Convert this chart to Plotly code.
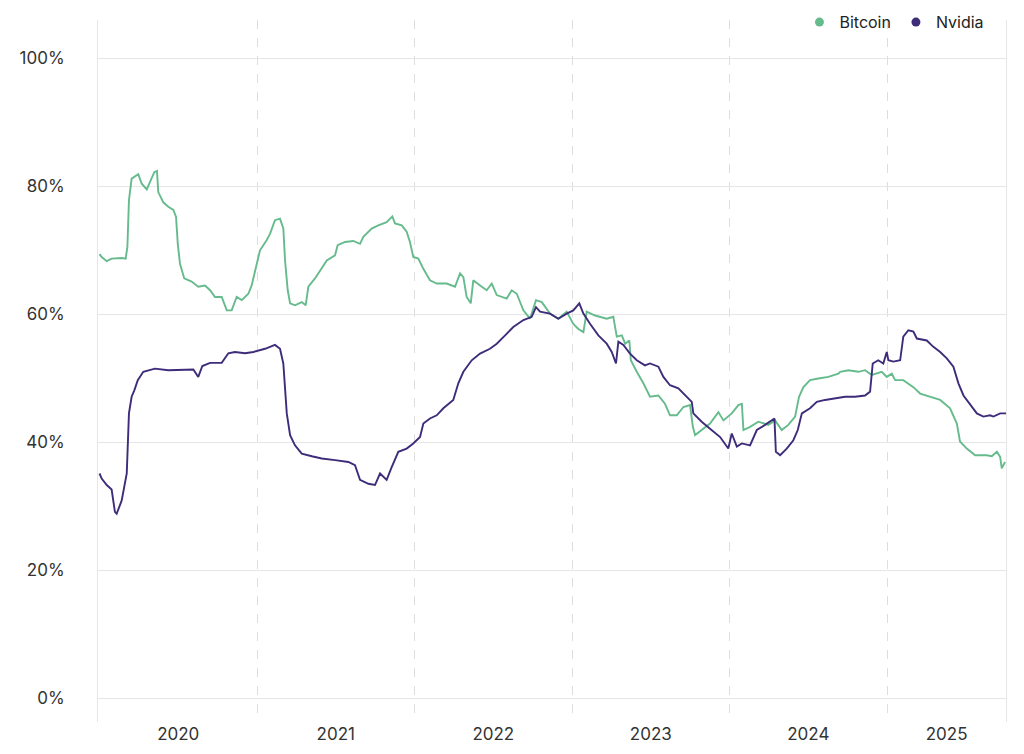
import plotly.graph_objects as go

# Time expressed in decimal years
btc_t = [2020.00, 2020.014, 2020.046, 2020.077, 2020.141, 2020.166, 2020.177, 2020.187, 2020.204, 2020.246,
         2020.268, 2020.300, 2020.321, 2020.348, 2020.365, 2020.373, 2020.405, 2020.437, 2020.469, 2020.486,
         2020.497, 2020.511, 2020.538, 2020.585, 2020.627, 2020.670, 2020.702, 2020.733, 2020.776, 2020.808,
         2020.839, 2020.871, 2020.903, 2020.945, 2020.966, 2020.983, 2021.019, 2021.062, 2021.083, 2021.114,
         2021.146, 2021.167, 2021.178, 2021.195, 2021.210, 2021.241, 2021.284, 2021.309, 2021.326, 2021.368,
         2021.411, 2021.443, 2021.495, 2021.512, 2021.559, 2021.611, 2021.654, 2021.675, 2021.728, 2021.770,
         2021.823, 2021.859, 2021.876, 2021.919, 2021.950, 2021.971, 2021.992, 2022.024, 2022.056, 2022.098,
         2022.141, 2022.204, 2022.257, 2022.289, 2022.310, 2022.331, 2022.357, 2022.373, 2022.416, 2022.458,
         2022.490, 2022.522, 2022.585, 2022.617, 2022.649, 2022.691, 2022.733, 2022.771, 2022.808, 2022.860,
         2022.913, 2022.966, 2023.008, 2023.040, 2023.072, 2023.093, 2023.146, 2023.220, 2023.262, 2023.284,
         2023.316, 2023.337, 2023.364, 2023.373, 2023.411, 2023.453, 2023.495, 2023.548, 2023.590, 2023.622,
         2023.665, 2023.707, 2023.749, 2023.767, 2023.781, 2023.823, 2023.876, 2023.929, 2023.961, 2024.014,
         2024.056, 2024.078, 2024.088, 2024.130, 2024.183, 2024.246, 2024.289, 2024.331, 2024.373, 2024.416,
         2024.441, 2024.469, 2024.511, 2024.564, 2024.627, 2024.691, 2024.702, 2024.754, 2024.818, 2024.860,
         2024.903, 2024.966, 2024.998, 2025.030, 2025.051, 2025.103, 2025.135, 2025.167, 2025.210, 2025.273,
         2025.337, 2025.400, 2025.443, 2025.463, 2025.506, 2025.559, 2025.633, 2025.665, 2025.697, 2025.718,
         2025.728, 2025.749]
btc_v = [69.4, 68.95, 68.3, 68.7, 68.8, 68.7, 70.5, 77.8, 81.2, 81.9,
         80.4, 79.5, 80.7, 82.2, 82.4, 79.1, 77.5, 76.8, 76.3, 75.2,
         71.0, 67.9, 65.6, 65.1, 64.3, 64.5, 63.75, 62.7, 62.7, 60.6,
         60.6, 62.7, 62.2, 63.2, 64.5, 66.4, 70.0, 71.6, 72.6, 74.7,
         74.95, 73.4, 68.4, 63.75, 61.7, 61.4, 61.9, 61.4, 64.3, 65.6,
         67.1, 68.4, 69.2, 70.8, 71.3, 71.45, 71.0, 72.1, 73.4, 73.9,
         74.4, 75.3, 74.2, 73.9, 72.9, 71.3, 68.95, 68.7, 67.1, 65.3,
         64.8, 64.8, 64.3, 66.4, 65.8, 62.7, 61.7, 65.3, 64.5, 63.75,
         64.8, 63.0, 62.45, 63.75, 63.2, 60.6, 59.3, 62.2, 61.9, 60.1,
         59.3, 60.4, 58.5, 57.7, 57.2, 60.4, 59.8, 59.3, 59.6, 56.5,
         56.7, 55.4, 55.9, 52.8, 51.0, 49.2, 47.1, 47.3, 46.0, 44.2,
         44.2, 45.5, 45.8, 42.4, 41.1, 41.9, 42.9, 44.7, 43.4, 44.5,
         45.8, 46.0, 41.9, 42.4, 43.2, 42.7, 43.4, 41.9, 42.7, 44.0,
         47.1, 48.6, 49.7, 49.95, 50.2, 50.7, 51.0, 51.25, 51.0, 51.25,
         50.5, 51.0, 50.2, 50.7, 49.7, 49.7, 49.2, 48.6, 47.6, 47.1,
         46.6, 45.3, 42.9, 40.1, 39.0, 37.95, 37.95, 37.8, 38.5, 37.7,
         35.9, 36.9]

nvda_t = [2020.00, 2020.014, 2020.046, 2020.077, 2020.098, 2020.109, 2020.141, 2020.173, 2020.187, 2020.204,
          2020.221, 2020.243, 2020.278, 2020.352, 2020.437, 2020.522, 2020.596, 2020.627, 2020.653, 2020.702,
          2020.776, 2020.818, 2020.860, 2020.924, 2020.977, 2021.051, 2021.114, 2021.146, 2021.167, 2021.189,
          2021.210, 2021.241, 2021.284, 2021.348, 2021.411, 2021.495, 2021.580, 2021.622, 2021.654, 2021.707,
          2021.749, 2021.781, 2021.823, 2021.855, 2021.897, 2021.950, 2021.992, 2022.035, 2022.056, 2022.098,
          2022.141, 2022.183, 2022.246, 2022.278, 2022.310, 2022.363, 2022.416, 2022.479, 2022.522, 2022.575,
          2022.627, 2022.691, 2022.744, 2022.771, 2022.797, 2022.860, 2022.913, 2022.966, 2023.008, 2023.046,
          2023.072, 2023.114, 2023.167, 2023.220, 2023.252, 2023.279, 2023.294, 2023.326, 2023.368, 2023.411,
          2023.463, 2023.495, 2023.548, 2023.580, 2023.622, 2023.675, 2023.717, 2023.760, 2023.770, 2023.823,
          2023.876, 2023.940, 2023.992, 2024.014, 2024.046, 2024.078, 2024.130, 2024.173, 2024.225, 2024.268,
          2024.285, 2024.294, 2024.321, 2024.363, 2024.405, 2024.433, 2024.459, 2024.511, 2024.554, 2024.606,
          2024.670, 2024.733, 2024.797, 2024.860, 2024.892, 2024.909, 2024.944, 2024.976, 2024.998, 2025.008,
          2025.040, 2025.083, 2025.103, 2025.135, 2025.167, 2025.189, 2025.252, 2025.294, 2025.337, 2025.379,
          2025.421, 2025.453, 2025.485, 2025.527, 2025.570, 2025.611, 2025.654, 2025.675, 2025.718, 2025.756]
nvda_v = [35.1, 34.3, 33.3, 32.6, 29.1, 28.8, 30.9, 35.1, 44.5, 47.1,
          48.1, 49.7, 51.0, 51.5, 51.25, 51.35, 51.35, 50.2, 51.9, 52.4,
          52.4, 53.9, 54.1, 53.9, 54.1, 54.6, 55.2, 54.6, 52.3, 44.5,
          41.1, 39.5, 38.2, 37.8, 37.45, 37.2, 36.9, 36.4, 34.1, 33.5,
          33.3, 35.1, 34.1, 36.1, 38.5, 39.0, 39.8, 40.8, 42.9, 43.7,
          44.2, 45.3, 46.6, 49.2, 51.0, 52.8, 53.85, 54.6, 55.4, 56.7,
          58.0, 59.1, 59.6, 61.1, 60.4, 60.1, 59.3, 60.1, 60.6, 61.7,
          60.1, 58.5, 56.7, 55.4, 54.1, 52.3, 55.7, 55.2, 53.85, 52.8,
          52.0, 52.3, 51.8, 50.2, 48.9, 48.4, 47.3, 46.3, 44.5, 43.2,
          42.1, 40.8, 39.0, 41.35, 39.3, 39.8, 39.5, 41.9, 42.7, 43.4,
          43.7, 38.5, 37.95, 39.0, 40.3, 41.9, 44.5, 45.3, 46.3, 46.6,
          46.8, 47.1, 47.1, 47.3, 47.9, 52.3, 52.8, 52.3, 54.1, 52.8,
          52.6, 52.8, 56.5, 57.5, 57.3, 56.2, 55.9, 54.9, 54.1, 53.1,
          51.8, 49.2, 47.3, 46.0, 44.5, 44.0, 44.2, 44.0, 44.5, 44.5]

year_labels = ["2020", "2021", "2022", "2023", "2024", "2025"]
year_label_pos = [2020.5, 2021.5, 2022.5, 2023.5, 2024.5, 2025.378]
year_bounds = [2021, 2022, 2023, 2024, 2025]
y_ticks = [0, 20, 40, 60, 80, 100]
y_tick_text = ["0%", "20%", "40%", "60%", "80%", "100%"]

GREEN = "#66bb8c"
PURPLE = "#3e2c7a"
FONT = "Inter, Roboto, Arial, sans-serif"

fig = go.Figure()
fig.add_trace(go.Scatter(x=btc_t, y=btc_v, mode="lines", line=dict(color=GREEN, width=1.9),
                         showlegend=False, hoverinfo="skip"))
fig.add_trace(go.Scatter(x=nvda_t, y=nvda_v, mode="lines", line=dict(color=PURPLE, width=1.9),
                         showlegend=False, hoverinfo="skip"))
fig.add_trace(go.Scatter(x=[None], y=[None], mode="markers", name="Bitcoin",
                         marker=dict(color=GREEN, size=9)))
fig.add_trace(go.Scatter(x=[None], y=[None], mode="markers", name="Nvidia",
                         marker=dict(color=PURPLE, size=9)))

fig.update_layout(
    width=1016, height=746,
    margin=dict(l=90, r=18, t=12, b=32, autoexpand=False),
    paper_bgcolor="white", plot_bgcolor="white",
    font=dict(family=FONT, size=17, color="#333333"),
    legend=dict(orientation="h", xref="container", yref="container",
                x=0.966, xanchor="right", y=0.981, yanchor="middle",
                font=dict(size=16, color="#222222"), itemwidth=30, bgcolor="rgba(0,0,0,0)",
                traceorder="normal"),
    xaxis=dict(range=[2019.9905, 2025.755], tickmode="array", tickvals=year_label_pos,
               ticktext=year_labels, showgrid=False, zeroline=False, showline=False,
               ticks="", tickfont=dict(size=17, color="#333333"),
               minor=dict(tickmode="array", tickvals=year_bounds, showgrid=True,
                          gridcolor="#dedede", griddash="dash", gridwidth=1, ticks="")),
    yaxis=dict(range=[-3.75, 106], tickmode="array", tickvals=y_ticks, ticktext=y_tick_text,
               showgrid=True, gridcolor="#e6e6e6", gridwidth=1, zeroline=False,
               showline=True, mirror=True, linecolor="#e6e6e6", linewidth=1,
               ticks="outside", ticklen=29, tickcolor="rgba(0,0,0,0)",
               tickfont=dict(size=17, color="#333333")),
)

fig.write_html("out.html")
